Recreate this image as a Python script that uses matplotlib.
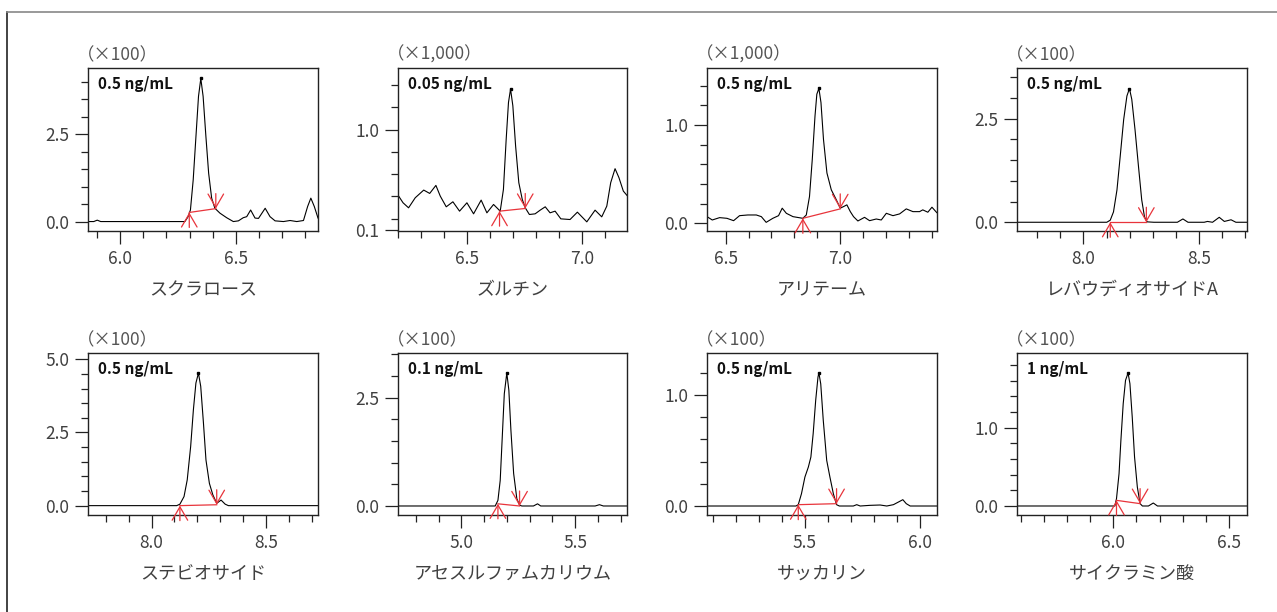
import matplotlib
matplotlib.use("Agg")
import matplotlib.pyplot as plt
from matplotlib.ticker import MultipleLocator, FormatStrFormatter
from matplotlib.lines import Line2D

plt.rcParams['font.family'] = ['Noto Sans CJK JP', 'DejaVu Sans']

# ---- chromatogram traces (time [min], intensity) ----
t_sucralose = [5.860, 5.885, 5.900, 5.915, 6.280, 6.294, 6.304, 6.316, 6.328, 6.339,
               6.349, 6.359, 6.371, 6.383, 6.396, 6.410, 6.432, 6.461, 6.490, 6.512,
               6.533, 6.548, 6.565, 6.584, 6.599, 6.628, 6.649, 6.671, 6.707, 6.736,
               6.765, 6.794, 6.812, 6.826, 6.841, 6.857]
v_sucralose = [0.0, 0.0, 0.04, 0.0, 0.0, 0.14, 0.33, 1.19, 2.44, 3.58,
               4.09, 3.58, 2.44, 1.38, 0.67, 0.38, 0.24, 0.11, 0.0, 0.02,
               0.11, 0.14, 0.33, 0.10, 0.09, 0.38, 0.14, 0.02, 0.0, 0.03,
               0.0, 0.03, 0.43, 0.67, 0.43, 0.10]

t_dulcin = [6.200, 6.222, 6.246, 6.275, 6.312, 6.338, 6.365, 6.384, 6.410, 6.439,
            6.468, 6.500, 6.529, 6.562, 6.587, 6.616, 6.645, 6.659, 6.671, 6.681,
            6.690, 6.700, 6.712, 6.726, 6.741, 6.754, 6.772, 6.797, 6.819, 6.841,
            6.862, 6.884, 6.909, 6.949, 6.981, 7.022, 7.058, 7.087, 7.109, 7.126,
            7.145, 7.162, 7.181, 7.197]
v_dulcin = [0.412, 0.343, 0.298, 0.388, 0.457, 0.427, 0.499, 0.403, 0.307, 0.352,
            0.268, 0.343, 0.244, 0.367, 0.253, 0.328, 0.268, 0.463, 0.913, 1.243,
            1.363, 1.213, 0.853, 0.523, 0.373, 0.298, 0.238, 0.244, 0.277, 0.307,
            0.253, 0.268, 0.199, 0.193, 0.259, 0.172, 0.277, 0.217, 0.313, 0.523,
            0.649, 0.568, 0.448, 0.409]

t_alitame = [6.419, 6.442, 6.474, 6.506, 6.535, 6.561, 6.597, 6.634, 6.656, 6.677,
             6.706, 6.731, 6.747, 6.765, 6.794, 6.837, 6.852, 6.866, 6.878, 6.890,
             6.898, 6.907, 6.916, 6.927, 6.942, 6.961, 6.983, 7.000, 7.015, 7.029,
             7.044, 7.058, 7.077, 7.106, 7.128, 7.157, 7.179, 7.201, 7.230, 7.259,
             7.288, 7.317, 7.346, 7.360, 7.382, 7.400, 7.421]
v_alitame = [0.068, 0.034, 0.058, 0.051, 0.027, 0.078, 0.085, 0.085, 0.068, 0.010,
             0.051, 0.078, 0.154, 0.102, 0.068, 0.051, 0.085, 0.273, 0.648, 1.092,
             1.314, 1.372, 1.229, 0.853, 0.512, 0.341, 0.239, 0.154, 0.171, 0.188,
             0.119, 0.068, 0.024, 0.061, 0.027, 0.044, 0.034, 0.102, 0.078, 0.096,
             0.147, 0.119, 0.119, 0.137, 0.113, 0.164, 0.109]

t_rebaudioside = [7.713, 8.101, 8.116, 8.130, 8.145, 8.159, 8.174, 8.188, 8.199, 8.209,
                  8.223, 8.238, 8.252, 8.264, 8.275, 8.304, 8.406, 8.430, 8.452, 8.522,
                  8.536, 8.558, 8.587, 8.609, 8.638, 8.659, 8.707]
v_rebaudioside = [0.0, 0.0, 0.05, 0.25, 0.78, 1.59, 2.48, 3.05, 3.23, 2.97,
                  2.24, 1.35, 0.54, 0.13, 0.01, 0.0, 0.0, 0.08, 0.0, 0.0,
                  0.02, 0.0, 0.12, 0.02, 0.06, 0.0, 0.0]

t_stevioside = [7.722, 8.110, 8.124, 8.142, 8.156, 8.171, 8.183, 8.194, 8.205, 8.215,
                8.227, 8.238, 8.253, 8.268, 8.285, 8.304, 8.322, 8.336, 8.728]
v_stevioside = [0.0, 0.0, 0.05, 0.31, 0.88, 2.02, 3.28, 4.19, 4.53, 4.08,
                2.82, 1.56, 0.76, 0.37, 0.08, 0.19, 0.05, 0.0, 0.0]

t_acesulfame = [4.722, 5.149, 5.161, 5.171, 5.180, 5.189, 5.200, 5.209, 5.218, 5.230,
                5.244, 5.256, 5.266, 5.317, 5.335, 5.349, 5.588, 5.607, 5.624, 5.728]
v_acesulfame = [0.0, 0.0, 0.13, 0.59, 1.59, 2.59, 3.07, 2.67, 1.75, 0.75,
                0.17, 0.02, 0.0, 0.0, 0.05, 0.0, 0.0, 0.03, 0.0, 0.0]

t_saccharin = [5.073, 5.461, 5.471, 5.485, 5.500, 5.515, 5.526, 5.536, 5.547, 5.557,
               5.561, 5.569, 5.580, 5.595, 5.609, 5.624, 5.638, 5.650, 5.711, 5.726,
               5.741, 5.784, 5.828, 5.857, 5.886, 5.908, 5.927, 5.942, 5.959, 6.076]
v_saccharin = [0.0, 0.0, 0.012, 0.111, 0.261, 0.351, 0.441, 0.652, 0.952, 1.162,
               1.198, 1.100, 0.772, 0.411, 0.261, 0.111, 0.012, 0.0, 0.0, 0.012,
               0.0, 0.006, 0.009, 0.0, 0.012, 0.036, 0.057, 0.021, 0.0, 0.0]

t_cyclamate = [5.584, 6.007, 6.014, 6.025, 6.033, 6.043, 6.053, 6.064, 6.072, 6.082,
               6.092, 6.104, 6.116, 6.126, 6.152, 6.173, 6.191, 6.578]
v_cyclamate = [0.0, 0.0, 0.094, 0.413, 0.838, 1.306, 1.604, 1.698, 1.562, 1.136,
               0.626, 0.243, 0.030, 0.0, 0.0, 0.038, 0.0, 0.0]

# integration baselines: (start time, start value, end time, end value)
baselines = [
    (6.299, 0.26, 6.414, 0.37),
    (6.642, 0.268, 6.754, 0.292),
    (6.837, 0.051, 7.000, 0.147),
    (8.116, 0.0, 8.272, 0.0),
    (8.124, 0.0, 8.285, 0.03),
    (5.161, 0.05, 5.256, 0.0),
    (5.471, 0.012, 5.638, 0.021),
    (6.014, 0.072, 6.116, 0.03),
]

names = ['スクラロース', 'ズルチン', 'アリテーム', 'レバウディオサイドA',
         'ステビオサイド', 'アセスルファムカリウム', 'サッカリン', 'サイクラミン酸']
concs = ['0.5 ng/mL', '0.05 ng/mL', '0.5 ng/mL', '0.5 ng/mL',
         '0.5 ng/mL', '0.1 ng/mL', '0.5 ng/mL', '1 ng/mL']
scales = ['（×100）', '（×1,000）', '（×1,000）', '（×100）',
          '（×100）', '（×100）', '（×100）', '（×100）']
traces = [(t_sucralose, v_sucralose), (t_dulcin, v_dulcin), (t_alitame, v_alitame),
          (t_rebaudioside, v_rebaudioside), (t_stevioside, v_stevioside),
          (t_acesulfame, v_acesulfame), (t_saccharin, v_saccharin),
          (t_cyclamate, v_cyclamate)]
xlims = [(5.86, 6.857), (6.2, 7.197), (6.419, 7.422), (7.713, 8.707),
         (7.722, 8.728), (4.722, 5.728), (5.073, 6.076), (5.584, 6.578)]
ylims = [(-0.27, 4.39), (0.09, 1.552), (-0.078, 1.58), (-0.211, 3.726),
         (-0.32, 5.217), (-0.208, 3.53), (-0.081, 1.378), (-0.115, 1.953)]
yticks = [[0.0, 2.5], [0.1, 1.0], [0.0, 1.0], [0.0, 2.5],
          [0.0, 2.5, 5.0], [0.0, 2.5], [0.0, 1.0], [0.0, 1.0]]
yminor = [0.5, 0.2, 0.2, 0.5, 0.5, 0.5, 0.2, 0.2]

W, H = 1277, 612
fig = plt.figure(figsize=(W / 100, H / 100), dpi=100)

cols = [(88, 318), (398, 627), (707, 937), (1017, 1247)]
rows = [(68, 231), (353, 515)]
red = '#e8343b'
txt = '#404040'

for i in range(8):
    (x0, x1), (y0, y1) = cols[i % 4], rows[i // 4]
    ax = fig.add_axes([x0 / W, 1 - y1 / H, (x1 - x0) / W, (y1 - y0) / H])
    t, v = traces[i]
    ax.plot(t, v, color='black', lw=0.8)

    # integration baseline + start/end arrows
    ts, vs, te, ve = baselines[i]
    ax.plot([ts, te], [vs, ve], color=red, lw=0.9)
    arrow = dict(arrowstyle='->,head_length=0.6,head_width=0.35', color=red,
                 lw=0.9, shrinkA=0, shrinkB=0, mutation_scale=16)
    ax.annotate('', xy=(ts, vs), xytext=(0, -15), textcoords='offset pixels',
                arrowprops=arrow, annotation_clip=False)
    ax.annotate('', xy=(te, ve), xytext=(0, 15), textcoords='offset pixels',
                arrowprops=arrow, annotation_clip=False)

    # apex marker
    k = max(range(len(v)), key=lambda j: v[j] if ts <= t[j] <= te else -1)
    ax.plot(t[k], v[k], marker='s', ms=2, color='black')

    ax.set_xlim(*xlims[i])
    ax.set_ylim(*ylims[i])
    ax.xaxis.set_major_locator(MultipleLocator(0.5))
    ax.xaxis.set_minor_locator(MultipleLocator(0.1))
    ax.xaxis.set_major_formatter(FormatStrFormatter('%.1f'))
    ax.set_yticks(yticks[i])
    ax.set_yticklabels(['%.1f' % y for y in yticks[i]])
    ax.yaxis.set_minor_locator(MultipleLocator(yminor[i]))
    ax.tick_params(which='major', length=9.5, width=0.9, color='#222',
                   labelsize=12.5, labelcolor=txt, pad=4)
    ax.tick_params(which='minor', length=5, width=0.9, color='#222')
    for s in ax.spines.values():
        s.set_linewidth(1.0)
        s.set_color('#222')

    ax.annotate(concs[i], xy=(0, 1), xycoords='axes fraction', xytext=(10, -16),
                textcoords='offset pixels', ha='left', va='center',
                fontsize=11, fontweight='bold', color='#111')
    ax.annotate(scales[i], xy=(0, 1), xycoords='axes fraction', xytext=(-11, 13),
                textcoords='offset pixels', ha='left', va='center',
                fontsize=12.5, color='#555')
    ax.annotate(names[i], xy=(0.5, 0), xycoords='axes fraction', xytext=(0, -59),
                textcoords='offset pixels', ha='center', va='center',
                fontsize=13, color=txt)

# page frame: left and top edge
fig.add_artist(Line2D([7 / W, 7 / W], [0, 1 - 12 / H], color='#222', lw=1.2))
fig.add_artist(Line2D([7 / W, 1], [1 - 12 / H, 1 - 12 / H], color='#888', lw=1.2))

fig.savefig('out.png', dpi=100)
